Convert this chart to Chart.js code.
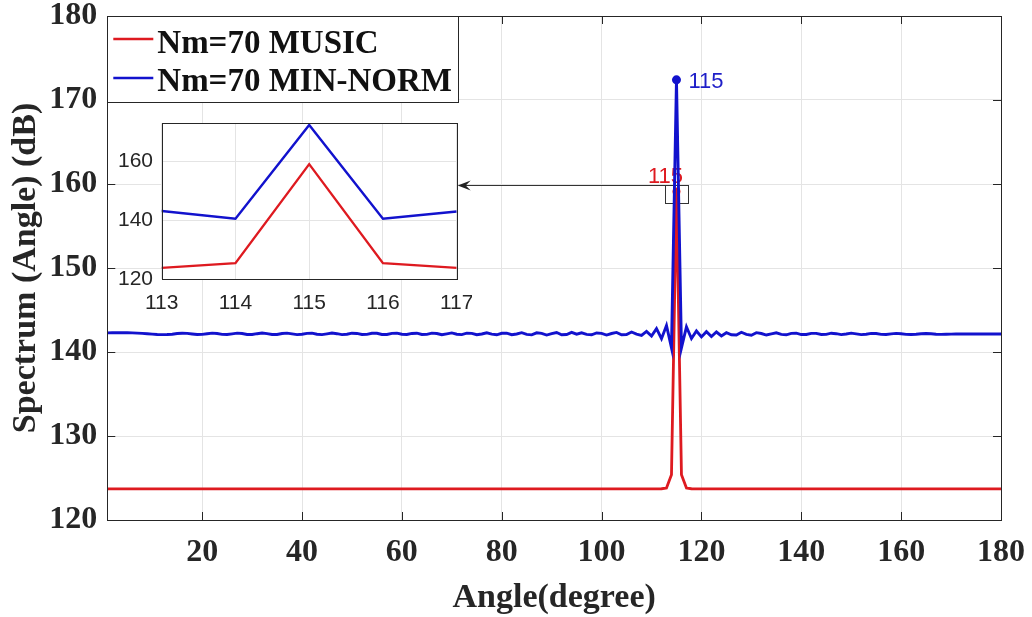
<!DOCTYPE html>
<html>
<head>
<meta charset="utf-8">
<script src="https://cdn.jsdelivr.net/npm/chart.js@4.4.1/dist/chart.umd.min.js"></script>
<style>
  body { margin: 0; background: #fff; }
  #wrap { position: relative; width: 1032px; height: 617px; }
  #spectrumChart { position: absolute; left: 0; top: 0; }
  #zoomChart { position: absolute; left: 100px; top: 113px; }
</style>
</head>
<body>
<div id="wrap">
  <canvas id="spectrumChart" width="1032" height="617"></canvas>
  <canvas id="zoomChart" width="372" height="207"></canvas>
</div>
<script>
// scan grid: 1..180 degrees, 1 degree apart
const angleStart = 1;
const angleStep = 1;
const angleCount = 180;
const angles = Array.from({ length: angleCount }, (_, i) => angleStart + i * angleStep);

// MUSIC spectrum (dB), one value per degree
const musicDb = [
  123.7, 123.7, 123.7, 123.7, 123.7, 123.7, 123.7, 123.7, 123.7, 123.7,
  123.7, 123.7, 123.7, 123.7, 123.7, 123.7, 123.7, 123.7, 123.7, 123.7,
  123.7, 123.7, 123.7, 123.7, 123.7, 123.7, 123.7, 123.7, 123.7, 123.7,
  123.7, 123.7, 123.7, 123.7, 123.7, 123.7, 123.7, 123.7, 123.7, 123.7,
  123.7, 123.7, 123.7, 123.7, 123.7, 123.7, 123.7, 123.7, 123.7, 123.7,
  123.7, 123.7, 123.7, 123.7, 123.7, 123.7, 123.7, 123.7, 123.7, 123.7,
  123.7, 123.7, 123.7, 123.7, 123.7, 123.7, 123.7, 123.7, 123.7, 123.7,
  123.7, 123.7, 123.7, 123.7, 123.7, 123.7, 123.7, 123.7, 123.7, 123.7,
  123.7, 123.7, 123.7, 123.7, 123.7, 123.7, 123.7, 123.7, 123.7, 123.7,
  123.7, 123.7, 123.7, 123.7, 123.7, 123.7, 123.7, 123.7, 123.7, 123.7,
  123.7, 123.7, 123.7, 123.7, 123.7, 123.7, 123.7, 123.7, 123.7, 123.7,
  123.7, 123.72, 123.8, 125.4, 159.1, 125.4, 123.8, 123.72, 123.7, 123.7,
  123.7, 123.7, 123.7, 123.7, 123.7, 123.7, 123.7, 123.7, 123.7, 123.7,
  123.7, 123.7, 123.7, 123.7, 123.7, 123.7, 123.7, 123.7, 123.7, 123.7,
  123.7, 123.7, 123.7, 123.7, 123.7, 123.7, 123.7, 123.7, 123.7, 123.7,
  123.7, 123.7, 123.7, 123.7, 123.7, 123.7, 123.7, 123.7, 123.7, 123.7,
  123.7, 123.7, 123.7, 123.7, 123.7, 123.7, 123.7, 123.7, 123.7, 123.7,
  123.7, 123.7, 123.7, 123.7, 123.7, 123.7, 123.7, 123.7, 123.7, 123.7
];

// MIN-NORM spectrum (dB), one value per degree
const minNormDb = [
  142.28, 142.29, 142.30, 142.30, 142.29, 142.28, 142.25, 142.22, 142.18, 142.13,
  142.09, 142.07, 142.08, 142.12, 142.20, 142.24, 142.22, 142.15, 142.09, 142.10,
  142.18, 142.25, 142.20, 142.10, 142.08, 142.16, 142.25, 142.20, 142.09, 142.08,
  142.18, 142.26, 142.19, 142.08, 142.09, 142.20, 142.25, 142.16, 142.07, 142.11,
  142.22, 142.24, 142.12, 142.07, 142.16, 142.26, 142.18, 142.07, 142.12, 142.24,
  142.21, 142.08, 142.10, 142.23, 142.23, 142.09, 142.09, 142.22, 142.25, 142.11,
  142.08, 142.21, 142.24, 142.09, 142.10, 142.25, 142.20, 142.06, 142.16, 142.27,
  142.12, 142.07, 142.24, 142.22, 142.06, 142.14, 142.28, 142.13, 142.05, 142.23,
  142.25, 142.06, 142.14, 142.30, 142.10, 142.04, 142.28, 142.22, 142.02, 142.18,
  142.32, 142.05, 142.08, 142.33, 142.12, 142.28, 142.10, 142.05, 142.27, 142.22,
  142.02, 142.20, 142.33, 142.05, 142.08, 142.38, 142.12, 141.98, 142.45, 141.90,
  142.78, 141.58, 143.15, 140.50, 172.40, 140.50, 143.00, 141.60, 142.50, 141.80,
  142.42, 141.85, 142.38, 141.92, 142.30, 142.05, 142.02, 142.35, 142.10, 142.00,
  142.30, 142.20, 142.02, 142.15, 142.28, 142.10, 142.05, 142.22, 142.25, 142.08,
  142.08, 142.22, 142.22, 142.08, 142.10, 142.24, 142.18, 142.07, 142.14, 142.24,
  142.16, 142.07, 142.12, 142.22, 142.20, 142.10, 142.08, 142.16, 142.22, 142.18,
  142.10, 142.08, 142.12, 142.18, 142.20, 142.17, 142.12, 142.10, 142.11, 142.13,
  142.14, 142.14, 142.14, 142.14, 142.14, 142.14, 142.14, 142.14, 142.14, 142.14
];

const seriesNames = ["Nm=70 MUSIC", "Nm=70 MIN-NORM"];
const xTicks = [20, 40, 60, 80, 100, 120, 140, 160, 180];
const yTicks = [120, 130, 140, 150, 160, 170, 180];

// zoomed view around the peak
const zoomXTicks = [113, 114, 115, 116, 117];
const zoomYTicks = [120, 140, 160];
const zoomYMax = 173;
// small box drawn around the peak on the main axes
const zoomBox = { x0: 112.7, x1: 117.3, y0: 157.7, y1: 159.9 };

const RED = "rgb(222,26,32)";
const BLUE = "rgb(18,18,205)";
const AXIS = "#262626";
const GRID = "#e4e4e4";
const SERIF = "'Liberation Serif', 'Times New Roman', serif";
const SANS = "'Liberation Sans', Arial, sans-serif";

const musicPeak = musicDb.indexOf(Math.max(...musicDb));
const minNormPeak = minNormDb.indexOf(Math.max(...minNormDb));

const toPoints = vals => angles.map((a, i) => ({ x: a, y: vals[i] }));

// fixed axis sizes, no extra room for overhanging end labels
const fixHeight = h => s => { s.height = h; s.paddingLeft = 0; s.paddingRight = 0; };
const fixWidth = w => s => { s.width = w; s.paddingTop = 0; s.paddingBottom = 0; };

// box around the plot area plus inward tick marks on all four sides
const frameTicks = {
  id: "frameTicks",
  afterDatasetsDraw(chart, args, opts) {
    const { ctx, chartArea: a, scales: { x, y } } = chart;
    const len = opts.len || 0;
    ctx.save();
    ctx.strokeStyle = AXIS;
    ctx.lineWidth = 1;
    ctx.beginPath();
    if (len) {
      x.ticks.forEach(t => {
        const px = Math.round(x.getPixelForValue(t.value)) + 0.5;
        ctx.moveTo(px, a.bottom); ctx.lineTo(px, a.bottom - len);
        ctx.moveTo(px, a.top); ctx.lineTo(px, a.top + len);
      });
      y.ticks.forEach(t => {
        const py = Math.round(y.getPixelForValue(t.value)) + 0.5;
        ctx.moveTo(a.left, py); ctx.lineTo(a.left + len, py);
        ctx.moveTo(a.right, py); ctx.lineTo(a.right - len, py);
      });
    }
    ctx.stroke();
    ctx.strokeRect(Math.round(a.left) + 0.5, Math.round(a.top) + 0.5,
      Math.round(a.right - a.left), Math.round(a.bottom - a.top));
    ctx.restore();
  }
};

const whiteArea = {
  id: "whiteArea",
  beforeDraw(chart) {
    const { ctx, chartArea: a } = chart;
    ctx.save();
    ctx.fillStyle = "#fff";
    ctx.fillRect(a.left, a.top, a.right - a.left, a.bottom - a.top);
    ctx.restore();
  }
};

// ---- inset ----
const zoomCanvas = document.getElementById("zoomChart");
const zoomLeft = 100;

const zoomChart = new Chart(zoomCanvas, {
  type: "line",
  data: {
    datasets: [
      { data: toPoints(minNormDb), borderColor: BLUE, borderWidth: 2.4, pointRadius: 0, order: 0 },
      { data: toPoints(musicDb), borderColor: RED, borderWidth: 2.4, pointRadius: 0, order: 1 }
    ]
  },
  options: {
    responsive: false,
    animation: false,
    layout: { padding: { top: 10.3, right: 15.3, left: 0, bottom: 0 } },
    plugins: { legend: { display: false }, tooltip: { enabled: false } },
    scales: {
      x: {
        type: "linear",
        min: zoomXTicks[0],
        max: zoomXTicks[zoomXTicks.length - 1],
        afterBuildTicks: s => { s.ticks = zoomXTicks.map(v => ({ value: v })); },
        afterFit: fixHeight(41),
        grid: { color: GRID, drawTicks: false },
        border: { display: false },
        ticks: { font: { family: SANS, size: 21 }, color: AXIS, padding: 12, autoSkip: false, maxRotation: 0 }
      },
      y: {
        min: zoomYTicks[0],
        max: zoomYMax,
        afterBuildTicks: s => { s.ticks = zoomYTicks.map(v => ({ value: v })); },
        afterFit: fixWidth(61.7),
        grid: { color: GRID, drawTicks: false },
        border: { display: false },
        ticks: { font: { family: SANS, size: 21 }, color: AXIS, padding: 8.7 }
      }
    }
  },
  plugins: [whiteArea, frameTicks]
});

// ---- main spectrum ----
const peakNotes = {
  id: "peakNotes",
  beforeDatasetsDraw(chart) {
    const { ctx, scales: { x, y } } = chart;
    ctx.save();
    // box around the peak and arrow to the inset
    const bx0 = x.getPixelForValue(zoomBox.x0);
    const bx1 = x.getPixelForValue(zoomBox.x1);
    const by0 = y.getPixelForValue(zoomBox.y1);
    const by1 = y.getPixelForValue(zoomBox.y0);
    ctx.strokeStyle = "#333";
    ctx.lineWidth = 1;
    ctx.strokeRect(Math.round(bx0) + 0.5, Math.round(by0) + 0.5, Math.round(bx1 - bx0), Math.round(by1 - by0));

    const tipX = zoomLeft + zoomChart.chartArea.right + 1;
    const ay = Math.round(by0) + 0.5;
    ctx.beginPath();
    ctx.moveTo(Math.round(bx0), ay);
    ctx.lineTo(tipX + 6, ay);
    ctx.stroke();
    ctx.fillStyle = "#222";
    ctx.beginPath();
    ctx.moveTo(tipX, ay);
    ctx.lineTo(tipX + 13, ay - 5);
    ctx.lineTo(tipX + 8, ay);
    ctx.lineTo(tipX + 13, ay + 5);
    ctx.closePath();
    ctx.fill();

    // peak angle labels
    ctx.font = "22px " + SANS;
    ctx.textBaseline = "middle";
    ctx.fillStyle = RED;
    ctx.textAlign = "center";
    ctx.fillText(String(angles[musicPeak]), x.getPixelForValue(angles[musicPeak]) - 11,
      y.getPixelForValue(musicDb[musicPeak]) - 15);
    ctx.fillStyle = "rgb(30,30,200)";
    ctx.textAlign = "left";
    ctx.fillText(String(angles[minNormPeak]), x.getPixelForValue(angles[minNormPeak]) + 12,
      y.getPixelForValue(minNormDb[minNormPeak]) + 2);
    ctx.restore();
  },
  afterDraw(chart) {
    const { ctx, chartArea: a } = chart;
    ctx.save();
    // legend box in the top-left corner
    const lx = Math.round(a.left) + 0.5, ly = Math.round(a.top) + 0.5;
    ctx.fillStyle = "#fff";
    ctx.fillRect(lx, ly, 351, 86);
    ctx.strokeStyle = AXIS;
    ctx.lineWidth = 1;
    ctx.strokeRect(lx, ly, 351, 86);
    const rows = [
      { name: seriesNames[0], color: RED, lineY: 39, textY: 53 },
      { name: seriesNames[1], color: BLUE, lineY: 78, textY: 90.5 }
    ];
    ctx.font = "bold 33px " + SERIF;
    ctx.textBaseline = "alphabetic";
    ctx.textAlign = "left";
    rows.forEach(r => {
      ctx.strokeStyle = r.color;
      ctx.lineWidth = 2.5;
      ctx.beginPath();
      ctx.moveTo(a.left + 6, r.lineY);
      ctx.lineTo(a.left + 46, r.lineY);
      ctx.stroke();
      ctx.fillStyle = "#111";
      ctx.fillText(r.name, a.left + 50, r.textY);
    });
    ctx.restore();
  }
};

const tickFont = { family: SERIF, size: 32, weight: "bold" };
const titleFont = { family: SERIF, size: 34, weight: "bold", lineHeight: 1 };

new Chart(document.getElementById("spectrumChart"), {
  type: "line",
  data: {
    datasets: [
      {
        label: seriesNames[1],
        data: toPoints(minNormDb),
        borderColor: BLUE,
        backgroundColor: BLUE,
        borderWidth: 2.9,
        pointRadius: c => (c.dataIndex === minNormPeak ? 4.5 : 0),
        pointBorderWidth: 0,
        order: 0
      },
      {
        label: seriesNames[0],
        data: toPoints(musicDb),
        borderColor: RED,
        backgroundColor: RED,
        borderWidth: 2.8,
        pointRadius: c => (c.dataIndex === musicPeak ? 4 : 0),
        pointBorderWidth: 0,
        order: 1
      }
    ]
  },
  options: {
    responsive: false,
    animation: false,
    layout: { padding: { top: 16, right: 31, left: 0, bottom: 0 } },
    plugins: { legend: { display: false }, tooltip: { enabled: false }, frameTicks: { len: 8 } },
    scales: {
      x: {
        type: "linear",
        min: angles[0],
        max: angles[angles.length - 1],
        afterBuildTicks: s => { s.ticks = xTicks.map(v => ({ value: v })); },
        afterFit: fixHeight(97),
        grid: { color: GRID, drawTicks: false },
        border: { display: false },
        ticks: { font: tickFont, color: AXIS, padding: 14, autoSkip: false, maxRotation: 0 },
        title: { display: true, text: "Angle(degree)", font: titleFont, color: AXIS, padding: { top: 0, bottom: 2 } }
      },
      y: {
        min: yTicks[0],
        max: yTicks[yTicks.length - 1],
        afterBuildTicks: s => { s.ticks = yTicks.map(v => ({ value: v })); },
        afterFit: fixWidth(107.3),
        grid: { color: GRID, drawTicks: false },
        border: { display: false },
        ticks: { font: tickFont, color: AXIS, padding: 10 },
        title: { display: true, text: "Spectrum (Angle) (dB)", font: titleFont, color: AXIS, padding: { top: 9, bottom: 0 } }
      }
    }
  },
  plugins: [peakNotes, frameTicks]
});
</script>
</body>
</html>
